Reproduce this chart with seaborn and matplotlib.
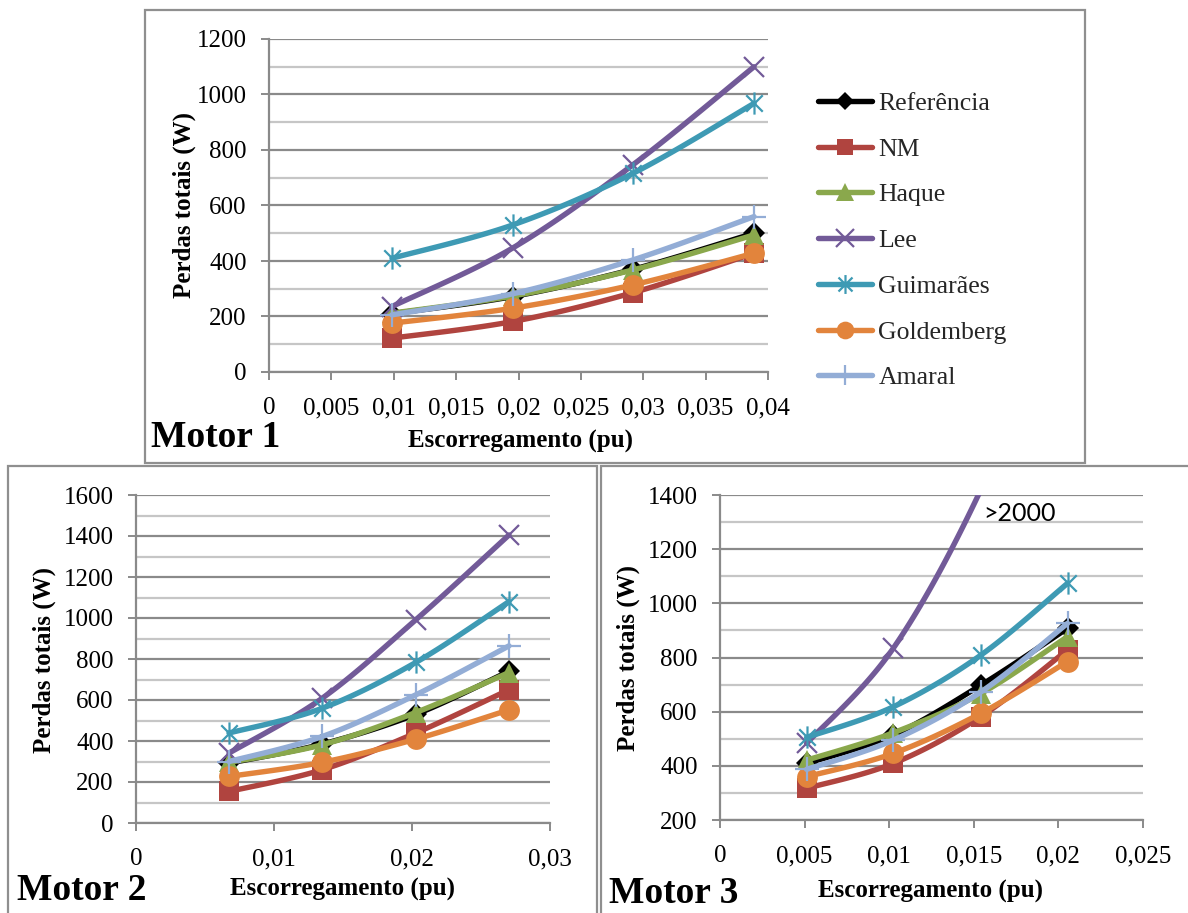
import numpy as np
import matplotlib
matplotlib.use("Agg")
import matplotlib.pyplot as plt
import seaborn as sns
from matplotlib.path import Path
from matplotlib.lines import Line2D
from matplotlib.patches import Rectangle
from matplotlib.ticker import MultipleLocator, FuncFormatter

# ---- data -------------------------------------------------------------
series = ["Referência", "NM", "Haque", "Lee", "Guimarães", "Goldemberg", "Amaral"]

slip_m1 = [0.00986, 0.01954, 0.02918, 0.03888]
loss_m1 = {
    "Referência": [210, 272, 370, 500],
    "NM":         [122, 182, 286, 428],
    "Haque":      [212, 274, 368, 494],
    "Lee":        [236, 447, 747, 1100],
    "Guimarães":  [410, 530, 716, 968],
    "Goldemberg": [176, 230, 314, 428],
    "Amaral":     [206, 282, 404, 560],
}

slip_m2 = [0.00674, 0.0135, 0.02027, 0.02703]
loss_m2 = {
    "Referência": [292, 385, 530, 740],
    "NM":         [154, 260, 439, 650],
    "Haque":      [296, 382, 539, 734],
    "Lee":        [341, 609, 991, 1405],
    "Guimarães":  [439, 560, 783, 1080],
    "Goldemberg": [227, 296, 409, 552],
    "Amaral":     [300, 422, 625, 864],
}

slip_m3 = [0.00512, 0.01024, 0.01542, 0.02054]
loss_m3 = {
    "Referência": [409, 514, 698, 908],
    "NM":         [317, 409, 582, 828],
    "Haque":      [421, 522, 667, 877],
    "Lee":        [483, 834, 1420, 2200],
    "Guimarães":  [505, 618, 809, 1074],
    "Goldemberg": [360, 446, 594, 785],
    "Amaral":     [387, 495, 673, 926],
}

# ---- styles -----------------------------------------------------------
asterisk = Path(
    [(-1, -1), (1, 1), (-1, 1), (1, -1), (0, -1.35), (0, 1.35)],
    [Path.MOVETO, Path.LINETO, Path.MOVETO, Path.LINETO, Path.MOVETO, Path.LINETO],
)

style = {
    "Referência": dict(color="#000000", marker="D", ms=11, mew=0),
    "NM":         dict(color="#B0443F", marker="s", ms=14, mew=0),
    "Haque":      dict(color="#8AA84C", marker="^", ms=15, mew=0),
    "Lee":        dict(color="#725A98", marker="x", ms=15, mew=1.6),
    "Guimarães":  dict(color="#3E9AB4", marker=asterisk, ms=16, mew=1.6),
    "Goldemberg": dict(color="#E2843C", marker="o", ms=15, mew=0),
    "Amaral":     dict(color="#93ADD6", marker="+", ms=17, mew=1.6),
}
LINE_W = 3.9
GRID_MAJOR = "#8a8a8a"
GRID_MINOR = "#c6c6c6"

sns.set_theme(style="white")
plt.rcParams["font.family"] = ["Liberation Serif", "DejaVu Serif"]
plt.rcParams["font.size"] = 18

W, H = 1188, 913
fig = plt.figure(figsize=(W / 100, H / 100), dpi=100)


def fx(x):
    return x / W


def fy(y):
    return 1 - y / H


def smooth(xs, ys, n=40):
    """Smoothed polyline through the points (cubic Bezier segments)."""
    p = np.column_stack([xs, ys]).astype(float)
    ext = np.vstack([p[0], p, p[-1]])
    out = []
    for i in range(len(p) - 1):
        p0, p1, p2, p3 = ext[i], ext[i + 1], ext[i + 2], ext[i + 3]
        c1 = p1 + (p2 - p0) / 6
        c2 = p2 - (p3 - p1) / 6
        t = np.linspace(0, 1, n)[:, None]
        seg = ((1 - t) ** 3) * p1 + 3 * ((1 - t) ** 2) * t * c1 + 3 * (1 - t) * t ** 2 * c2 + t ** 3 * p2
        out.append(seg if i == 0 else seg[1:])
    out = np.vstack(out)
    return out[:, 0], out[:, 1]


def slip_fmt(v, _):
    s = ("%g" % round(v, 4))
    return s.replace(".", ",")


def draw_panel(rect_px, slip, losses, xmax, xstep, ymin, ymax):
    l, t, r, b = rect_px
    ax = fig.add_axes([fx(l), fy(b), fx(r - l), (b - t) / H])
    for k, name in enumerate(series):
        st = style[name]
        vals = losses[name]
        sx, sy = smooth(slip, vals)
        sns.lineplot(x=sx, y=sy, sort=False, estimator=None, ax=ax,
                     color=st["color"], lw=LINE_W, legend=False,
                     zorder=3 + 2 * k, solid_capstyle="round")
        mx = [x for x, v in zip(slip, vals) if ymin <= v <= ymax]
        my = [v for v in vals if ymin <= v <= ymax]
        ax.plot(mx, my, ls="none", marker=st["marker"], ms=st["ms"],
                mew=st["mew"], color=st["color"], mec=st["color"],
                mfc=st["color"], zorder=4 + 2 * k)
    ax.set_xlim(0, xmax)
    ax.set_ylim(ymin, ymax)
    ax.xaxis.set_major_locator(MultipleLocator(xstep))
    ax.xaxis.set_major_formatter(FuncFormatter(slip_fmt))
    ax.yaxis.set_major_locator(MultipleLocator(200))
    ax.yaxis.set_minor_locator(MultipleLocator(100))
    ax.set_axisbelow(True)
    ax.grid(True, axis="y", which="major", color=GRID_MAJOR, lw=1.6)
    ax.grid(True, axis="y", which="minor", color=GRID_MINOR, lw=1.6)
    ax.grid(False, axis="x")
    for side in ("top", "right"):
        ax.spines[side].set_visible(False)
    for side in ("left", "bottom"):
        ax.spines[side].set_color(GRID_MAJOR)
        ax.spines[side].set_linewidth(1.6)
    ax.tick_params(axis="both", which="major", direction="out", length=6,
                   width=1.4, color=GRID_MAJOR, labelsize=18, labelcolor="black")
    ax.tick_params(axis="y", which="major", pad=10, left=True)
    ax.tick_params(axis="x", which="major", pad=12, bottom=True)
    ax.tick_params(axis="y", which="minor", length=0)
    ax.set_xlabel("")
    ax.set_ylabel("")
    return ax


ax1 = draw_panel((269, 39, 768, 372), slip_m1, loss_m1, 0.04, 0.005, 0, 1200)
ax2 = draw_panel((136, 495, 550, 823), slip_m2, loss_m2, 0.03, 0.01, 0, 1600)
ax3 = draw_panel((720, 495, 1143, 820), slip_m3, loss_m3, 0.025, 0.005, 200, 1400)

# note for the curve that leaves the top of panel 3
ax3.text(0.01556, 1333, ">2000", fontsize=18, family=["Lato", "DejaVu Sans"],
         ha="left", va="center", color="black", zorder=30)

# legend
handles = [Line2D([], [], color=style[n]["color"], lw=LINE_W, marker=style[n]["marker"],
                  ms=style[n]["ms"] * 0.85, mew=style[n]["mew"], mec=style[n]["color"],
                  mfc=style[n]["color"], solid_capstyle="round") for n in series]
fig.legend(handles, series, loc="upper left", bbox_to_anchor=(fx(818), fy(92)),
           bbox_transform=fig.transFigure, frameon=False, fontsize=18.5,
           handlelength=2.1, handletextpad=0.25, labelspacing=0.885,
           borderpad=0, borderaxespad=0)

# axis titles
bold = dict(fontsize=18, fontweight="bold", color="black")
fig.text(fx(184), fy(205), "Perdas totais (W)", rotation=90, ha="center", va="center", **bold)
fig.text(fx(44), fy(660), "Perdas totais (W)", rotation=90, ha="center", va="center", **bold)
fig.text(fx(628), fy(658), "Perdas totais (W)", rotation=90, ha="center", va="center", **bold)
fig.text(fx(521), fy(441), "Escorregamento (pu)", ha="center", va="center", **bold)
fig.text(fx(342), fy(889), "Escorregamento (pu)", ha="center", va="center", **bold)
fig.text(fx(931), fy(891), "Escorregamento (pu)", ha="center", va="center", **bold)

# panel names
panel_font = dict(fontsize=27, fontweight="bold", color="black", ha="left", va="center")
fig.text(fx(151), fy(437), "Motor 1", **panel_font)
fig.text(fx(17), fy(890), "Motor 2", **panel_font)
fig.text(fx(609), fy(893), "Motor 3", **panel_font)

# panel frames
frame = dict(fill=False, edgecolor="#8f8f8f", lw=1.6, transform=fig.transFigure,
             clip_on=False, zorder=0)
for (l, t, r, b) in [(145, 10, 1085, 463), (8, 466, 597, 915), (601, 466, 1192, 915)]:
    fig.patches.append(Rectangle((fx(l), fy(b)), fx(r - l), (b - t) / H, **frame))

fig.savefig("out.png", dpi=100)
